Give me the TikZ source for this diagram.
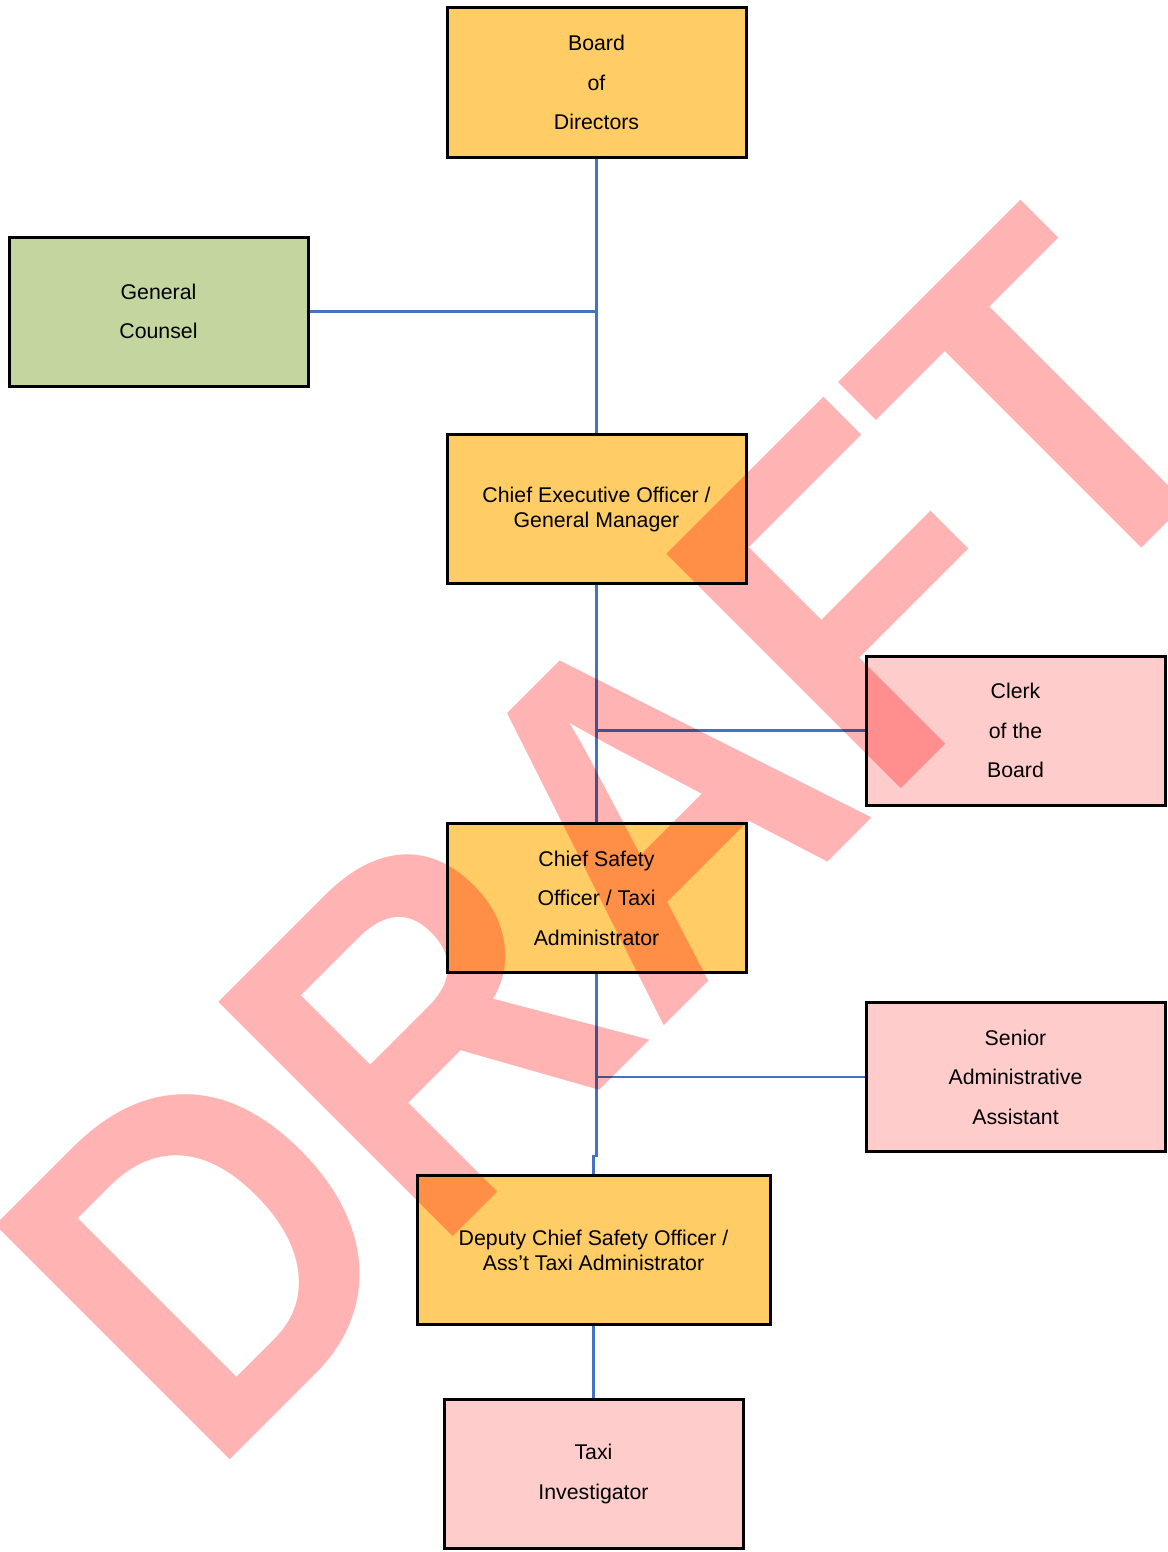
\documentclass[tikz,border=0pt]{standalone}
\usepackage{fontspec}
\setmainfont{Liberation Sans}
\usepackage{tikz}
\definecolor{boxorange}{RGB}{255,204,102}
\definecolor{boxgreen}{RGB}{196,214,160}
\definecolor{boxpink}{RGB}{255,204,204}
\definecolor{lineblue}{RGB}{68,114,196}
\definecolor{draftpink}{RGB}{255,179,179}

\begin{document}
\begin{tikzpicture}[x=1pt, y=-1pt,
  box/.style={draw=black, line width=3pt, minimum width=299pt, minimum height=149pt,
    inner sep=0pt, align=center, font=\fontsize{21.3}{25}\selectfont},
  wide/.style={font=\fontsize{21.3}{39.5}\selectfont},
  link/.style={draw=lineblue, line width=2.6pt}]
  \useasboundingbox (0,0) rectangle (1167,1552);
  \fill[white] (0,0) rectangle (1167,1552);

  \node[box, wide, fill=boxorange] (BD) at (596.5,82.5) {Board\\of\\Directors};
  \node[box, wide, fill=boxgreen] (GC) at (158.5,311.5) {General\\Counsel};
  \node[box, fill=boxorange] (CEO) at (596.5,509) {Chief Executive Officer /\\General Manager};
  \node[box, wide, fill=boxpink] (CB) at (1015.5,730.5) {Clerk\\of the\\Board};
  \node[box, wide, fill=boxorange] (CSO) at (596.5,898) {Chief Safety\\Officer / Taxi\\Administrator};
  \node[box, wide, fill=boxpink] (SAA) at (1015.5,1077) {Senior\\Administrative\\Assistant};
  \node[box, fill=boxorange, minimum width=353pt] (DCSO) at (593.5,1250) {Deputy Chief Safety Officer /\\Ass’t Taxi Administrator};
  \node[box, wide, fill=boxpink] (TI) at (593.5,1474) {Taxi\\Investigator};

  \draw[link] (BD.south) -- (CEO.north);
  \draw[link] (GC.east) -- (GC.east -| BD.south);
  \draw[link] (CEO.south) -- (CSO.north);
  \draw[link] (CB.west) -- (CB.west -| CEO.south);
  \draw[link] (CSO.south) |- ([yshift=18pt]DCSO.north) -- (DCSO.north);
  \draw[link] (SAA.west) -- (SAA.west -| CSO.south);
  \draw[link] (DCSO.south) -- (TI.north);

  \begin{scope}[blend mode=multiply]
    \clip (0,0) rectangle (1167,1552);
    \node[text=draftpink, rotate=45, xscale=0.909, anchor=base, inner sep=0pt,
      font=\fontsize{482}{482}\selectfont\bfseries] (DR) at (734,956) {DRAFT};
  \end{scope}
\end{tikzpicture}
\end{document}
